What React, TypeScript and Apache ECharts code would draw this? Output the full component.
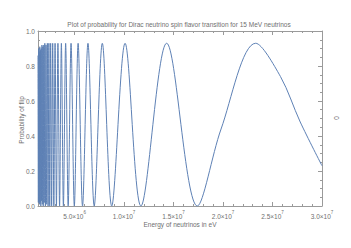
import React, { useEffect, useRef } from "react";
import * as echarts from "echarts";

const titleText = "Plot of probability for Dirac neutrino spin flavor transition for 15 MeV neutrinos";
const xName = "Energy of neutrinos in eV";
const yName = "Probability of flip";
const rightFrameLabel = "0";

// energy of neutrinos in MeV
const energyMeV = [
  1.3, 1.338, 1.365, 1.392, 1.42, 1.45, 1.481, 1.513, 1.547, 1.582, 1.619, 1.657, 1.698, 1.74,
  1.785, 1.832, 1.881, 1.933, 1.989, 2.047, 2.109, 2.175, 2.245, 2.32, 2.4, 2.486, 2.578,
  2.677, 2.784, 2.9, 3.026, 3.164, 3.314, 3.48, 3.663, 3.867, 4.094, 4.35, 4.64, 4.971,
  5.354, 5.8, 6.35, 6.98, 7.8, 8.75, 10.1, 11.7, 14.3, 17.4, 19.8, 23.3, 25.8, 27.8, 30.0,
];
// probability of flip at those energies
const probability = [
  0.86, 0.02, 0.9, 0.03, 0.88, 0.01, 0.91, 0.02, 0.89, 0.0, 0.9, 0.03, 0.92, 0.01,
  0.91, 0.0, 0.92, 0.02, 0.93, 0.0, 0.92, 0.01, 0.93, 0.0, 0.93, 0.0, 0.93,
  0.0, 0.93, 0.0, 0.93, 0.0, 0.93, 0.0, 0.93, 0.0, 0.93, 0.0, 0.93, 0.0,
  0.93, 0.0, 0.93, 0.0, 0.93, 0.0, 0.93, 0.0, 0.93, 0.0, 0.44, 0.93, 0.74, 0.48, 0.23,
];

const xMajorTicks = [5e6, 1e7, 1.5e7, 2e7, 2.5e7, 3e7];
const xMinorTicks = [
  2e6, 3e6, 4e6, 6e6, 7e6, 8e6, 9e6, 11e6, 12e6, 13e6, 14e6, 16e6, 17e6, 18e6, 19e6,
  21e6, 22e6, 23e6, 24e6, 26e6, 27e6, 28e6, 29e6,
];
const xMin = 1.3e6;
const xMax = 3e7;
const yMin = 0;
const yMax = 1;
const yStep = 0.2;

const FONT = "Liberation Sans";
const FS = 6.5;
const TEXT = "#6f6f6f";
const FRAME = "#9a9a9a";
const LINE = "#5e81b5";

function sciLabel(v: number) {
  const exp = Math.floor(Math.log10(v) + 1e-9);
  const m = v / Math.pow(10, exp);
  return `{b|${m.toFixed(1)}\u00d710}{s|${exp}}`;
}

export default function App() {
  const ref = useRef<HTMLDivElement>(null);
  useEffect(() => {
    if (!ref.current) return;
    const chart = echarts.init(ref.current, undefined, { renderer: "svg" });
    const data = energyMeV.map((e, i) => [e * 1e6, probability[i]]);
    const grid = { left: 38, right: 29, top: 31, bottom: 42 };
    const baseX = (pos: string) => ({
      type: "value",
      min: xMin,
      max: xMax,
      position: pos,
      splitLine: { show: false },
    });
    const baseY = (pos: string) => ({
      type: "value",
      min: yMin,
      max: yMax,
      interval: yStep,
      position: pos,
      splitLine: { show: false },
    });
    chart.setOption({
      animation: false,
      grid,
      xAxis: [
        {
          ...baseX("bottom"),
          axisLine: { show: true, onZero: false, lineStyle: { color: FRAME, width: 1 } },
          axisTick: { show: true, inside: true, length: 4, customValues: xMajorTicks, lineStyle: { color: FRAME } },
          axisLabel: {
            show: true,
            customValues: xMajorTicks,
            margin: 4,
            formatter: (v: number) => sciLabel(v),
            rich: {
              b: { fontSize: FS, color: TEXT, fontFamily: FONT, lineHeight: 10, verticalAlign: "bottom" },
              s: { fontSize: 4.5, color: TEXT, fontFamily: FONT, lineHeight: 10, verticalAlign: "top" },
            },
          },
        },
        {
          ...baseX("bottom"),
          axisLine: { show: false, onZero: false },
          axisTick: { show: true, inside: true, length: 2, customValues: xMinorTicks, lineStyle: { color: FRAME } },
          axisLabel: { show: false },
        },
        {
          ...baseX("top"),
          axisLine: { show: true, onZero: false, lineStyle: { color: FRAME, width: 1 } },
          axisTick: { show: true, inside: true, length: 4, customValues: xMajorTicks, lineStyle: { color: FRAME } },
          axisLabel: { show: false },
        },
        {
          ...baseX("top"),
          axisLine: { show: false, onZero: false },
          axisTick: { show: true, inside: true, length: 2, customValues: xMinorTicks, lineStyle: { color: FRAME } },
          axisLabel: { show: false },
        },
      ],
      yAxis: [
        {
          ...baseY("left"),
          axisLine: { show: true, onZero: false, lineStyle: { color: FRAME, width: 1 } },
          axisTick: { show: true, inside: true, length: 4, lineStyle: { color: FRAME } },
          minorTick: { show: true, splitNumber: 4, length: 2, lineStyle: { color: FRAME } },
          axisLabel: {
            show: true,
            margin: 3,
            fontSize: FS,
            color: TEXT,
            fontFamily: FONT,
            formatter: (v: number) => v.toFixed(1),
          },
        },
        {
          ...baseY("right"),
          axisLine: { show: true, onZero: false, lineStyle: { color: FRAME, width: 1 } },
          axisTick: { show: true, inside: true, length: 4, lineStyle: { color: FRAME } },
          minorTick: { show: true, splitNumber: 4, length: 2, lineStyle: { color: FRAME } },
          axisLabel: { show: false },
        },
      ],
      series: [
        {
          type: "line",
          xAxisIndex: 0,
          yAxisIndex: 0,
          data,
          smooth: 0.33,
          showSymbol: false,
          symbol: "none",
          lineStyle: { color: LINE, width: 1 },
          clip: true,
        },
      ],
      graphic: [
        {
          type: "text",
          x: 179,
          y: 24,
          style: { text: titleText, fontSize: FS, fill: TEXT, fontFamily: FONT, align: "center", verticalAlign: "middle" },
        },
        {
          type: "text",
          x: 180,
          y: 224,
          style: { text: xName, fontSize: FS, fill: TEXT, fontFamily: FONT, align: "center", verticalAlign: "middle" },
        },
        {
          type: "text",
          x: 21,
          y: 120,
          rotation: Math.PI / 2,
          style: { text: yName, fontSize: FS, fill: TEXT, fontFamily: FONT, align: "center", verticalAlign: "middle" },
        },
        {
          type: "text",
          x: 336,
          y: 118,
          rotation: Math.PI / 2,
          style: { text: rightFrameLabel, fontSize: FS, fill: TEXT, fontFamily: FONT, align: "center", verticalAlign: "middle" },
        },
      ],
    });
    return () => chart.dispose();
  }, []);
  return (
    <div
      ref={ref}
      style={{ position: "fixed", left: 0, top: 0, width: 351, height: 248, background: "#fff" }}
    />
  );
}
